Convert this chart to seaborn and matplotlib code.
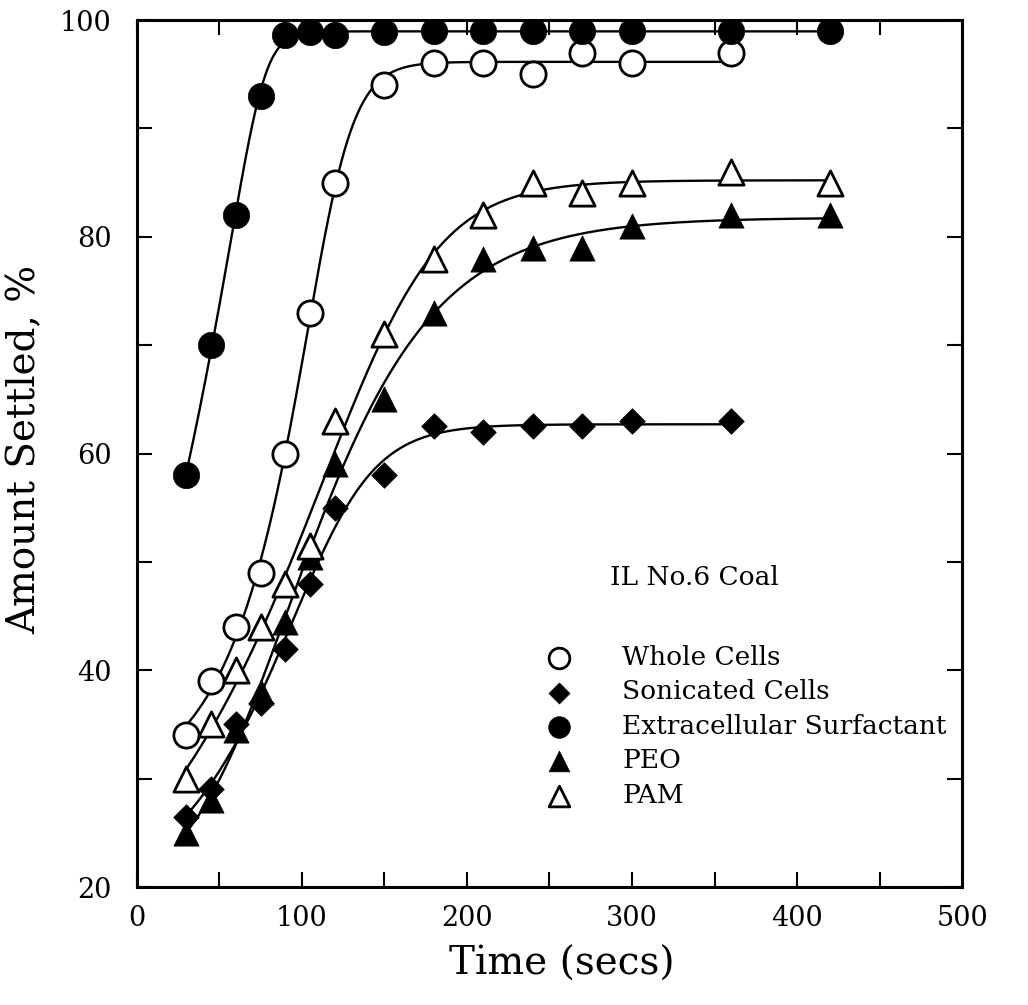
import numpy as np
import pandas as pd
import matplotlib
matplotlib.use("Agg")
import matplotlib.pyplot as plt
import seaborn as sns
from matplotlib.ticker import MultipleLocator

# ---------------- data ----------------
time = [30, 45, 60, 75, 90, 105, 120, 150, 180, 210, 240, 270, 300, 360, 420]
whole_cells = [34, 39, 44, 49, 60, 73, 85, 94, 96, 96, 95, 97, 96, 97]
sonicated_cells = [26.5, 29, 35, 37, 42, 48, 55, 58, 62.5, 62, 62.5, 62.5, 63, 63]
extracellular = [58, 70, 82, 93, 98.6, 98.9, 98.6, 98.9, 99, 99, 99, 99, 99, 99, 99]
peo = [25, 28, 34.5, 38, 44.5, 50.5, 59, 65, 73, 78, 79, 79, 81, 82, 82]
pam = [30, 35, 40, 44, 48, 51.5, 63, 71, 78, 82, 85, 84, 85, 86, 85]

series_names = ["Whole Cells", "Sonicated Cells", "Extracellular Surfactant", "PEO", "PAM"]
x_ticks = [0, 100, 200, 300, 400, 500]
y_ticks = [20, 40, 60, 80, 100]
annotation = "IL No.6 Coal"

# ---------------- smooth fitted curve (generalised logistic, least squares) ----------------
def fit_curve(t, y):
    t = np.asarray(t, float)
    y = np.asarray(y, float)
    t0s = np.linspace(-50, 300, 141)
    ss = np.linspace(2, 120, 119)
    nus = np.logspace(-1.5, 1.2, 28)
    best = (np.inf, None)
    for nu in nus:
        T0, S = np.meshgrid(t0s, ss, indexing="ij")
        z = -(t[None, None, :] - T0[..., None]) / S[..., None]
        z = np.clip(z, -50, 50)
        g = (1.0 + np.exp(z)) ** (-1.0 / nu)
        gm = g.mean(-1, keepdims=True)
        ym = y.mean()
        cov = ((g - gm) * (y - ym)).sum(-1)
        var = ((g - gm) ** 2).sum(-1) + 1e-12
        D = cov / var
        L = ym - D * gm[..., 0]
        pred = L[..., None] + D[..., None] * g
        sse = ((pred - y) ** 2).sum(-1)
        idx = np.unravel_index(np.argmin(sse), sse.shape)
        if sse[idx] < best[0]:
            best = (sse[idx], (T0[idx], S[idx], nu, L[idx], D[idx]))
    t0, s, nu, L, D = best[1]

    def f(tt):
        zz = np.clip(-(tt - t0) / s, -50, 50)
        return L + D * (1.0 + np.exp(zz)) ** (-1.0 / nu)
    return f

# ---------------- figure ----------------
sns.set_theme(style="ticks")
plt.rcParams["font.family"] = ["DejaVu Serif"]
plt.rcParams["mathtext.fontset"] = "dejavuserif"
for k in ["text.color", "axes.labelcolor", "xtick.color", "ytick.color", "axes.edgecolor"]:
    plt.rcParams[k] = "black"

fig = plt.figure(figsize=(10.28, 10.05), dpi=100)
ax = fig.add_axes([0.133, 0.1174, 0.803, 0.8626])

styles = {
    "Whole Cells": dict(marker="o", s=330, facecolor="white", edgecolor="black", linewidth=2.0),
    "Sonicated Cells": dict(marker="D", s=170, facecolor="black", edgecolor="black", linewidth=0.5),
    "Extracellular Surfactant": dict(marker="o", s=360, facecolor="black", edgecolor="black", linewidth=0.5),
    "PEO": dict(marker="^", s=330, facecolor="black", edgecolor="black", linewidth=0.5),
    "PAM": dict(marker="^", s=330, facecolor="white", edgecolor="black", linewidth=2.0),
}
values = {
    "Whole Cells": whole_cells,
    "Sonicated Cells": sonicated_cells,
    "Extracellular Surfactant": extracellular,
    "PEO": peo,
    "PAM": pam,
}

# fitted lines first
for name in series_names:
    yv = values[name]
    tv = time[: len(yv)]
    f = fit_curve(tv, yv)
    tt = np.linspace(tv[0], tv[-1], 400)
    df_line = pd.DataFrame({"t": tt, "y": f(tt)})
    sns.lineplot(data=df_line, x="t", y="y", ax=ax, color="black", linewidth=1.7,
                 legend=False, zorder=2)

# markers
for name in series_names:
    yv = values[name]
    tv = time[: len(yv)]
    df_pts = pd.DataFrame({"t": tv, "y": yv})
    sns.scatterplot(data=df_pts, x="t", y="y", ax=ax, label=name, zorder=3,
                    **styles[name])

ax.set_xlim(0, 500)
ax.set_ylim(20, 100)
ax.set_xticks(x_ticks)
ax.set_yticks(y_ticks)
ax.xaxis.set_minor_locator(MultipleLocator(50))
ax.yaxis.set_minor_locator(MultipleLocator(10))
ax.tick_params(which="both", direction="in", top=True, right=True, length=11, width=1.5,
               color="black")
ax.tick_params(axis="x", which="major", labelsize=19.5, pad=13, labelcolor="black")
ax.tick_params(axis="y", which="major", labelsize=19.5, pad=18, labelcolor="black")
for sp in ax.spines.values():
    sp.set_linewidth(2.2)
    sp.set_color("black")

ax.set_xlabel("Time (secs)", fontsize=28, color="black")
ax.set_ylabel("Amount Settled, %", fontsize=28, color="black")
ax.xaxis.set_label_coords(0.515, -0.068)
ax.yaxis.set_label_coords(-0.113, 0.505)

ax.text(0.573, 0.357, annotation, transform=ax.transAxes, fontsize=19, va="center",
        ha="left", color="black")

leg = ax.legend(loc="upper left", bbox_to_anchor=(0.496, 0.279), frameon=False,
                fontsize=19, handlelength=1.0, handletextpad=1.88, labelspacing=0.354,
                borderpad=0, borderaxespad=0, markerscale=0.82, labelcolor="black")

fig.savefig("out.png", dpi=100)
